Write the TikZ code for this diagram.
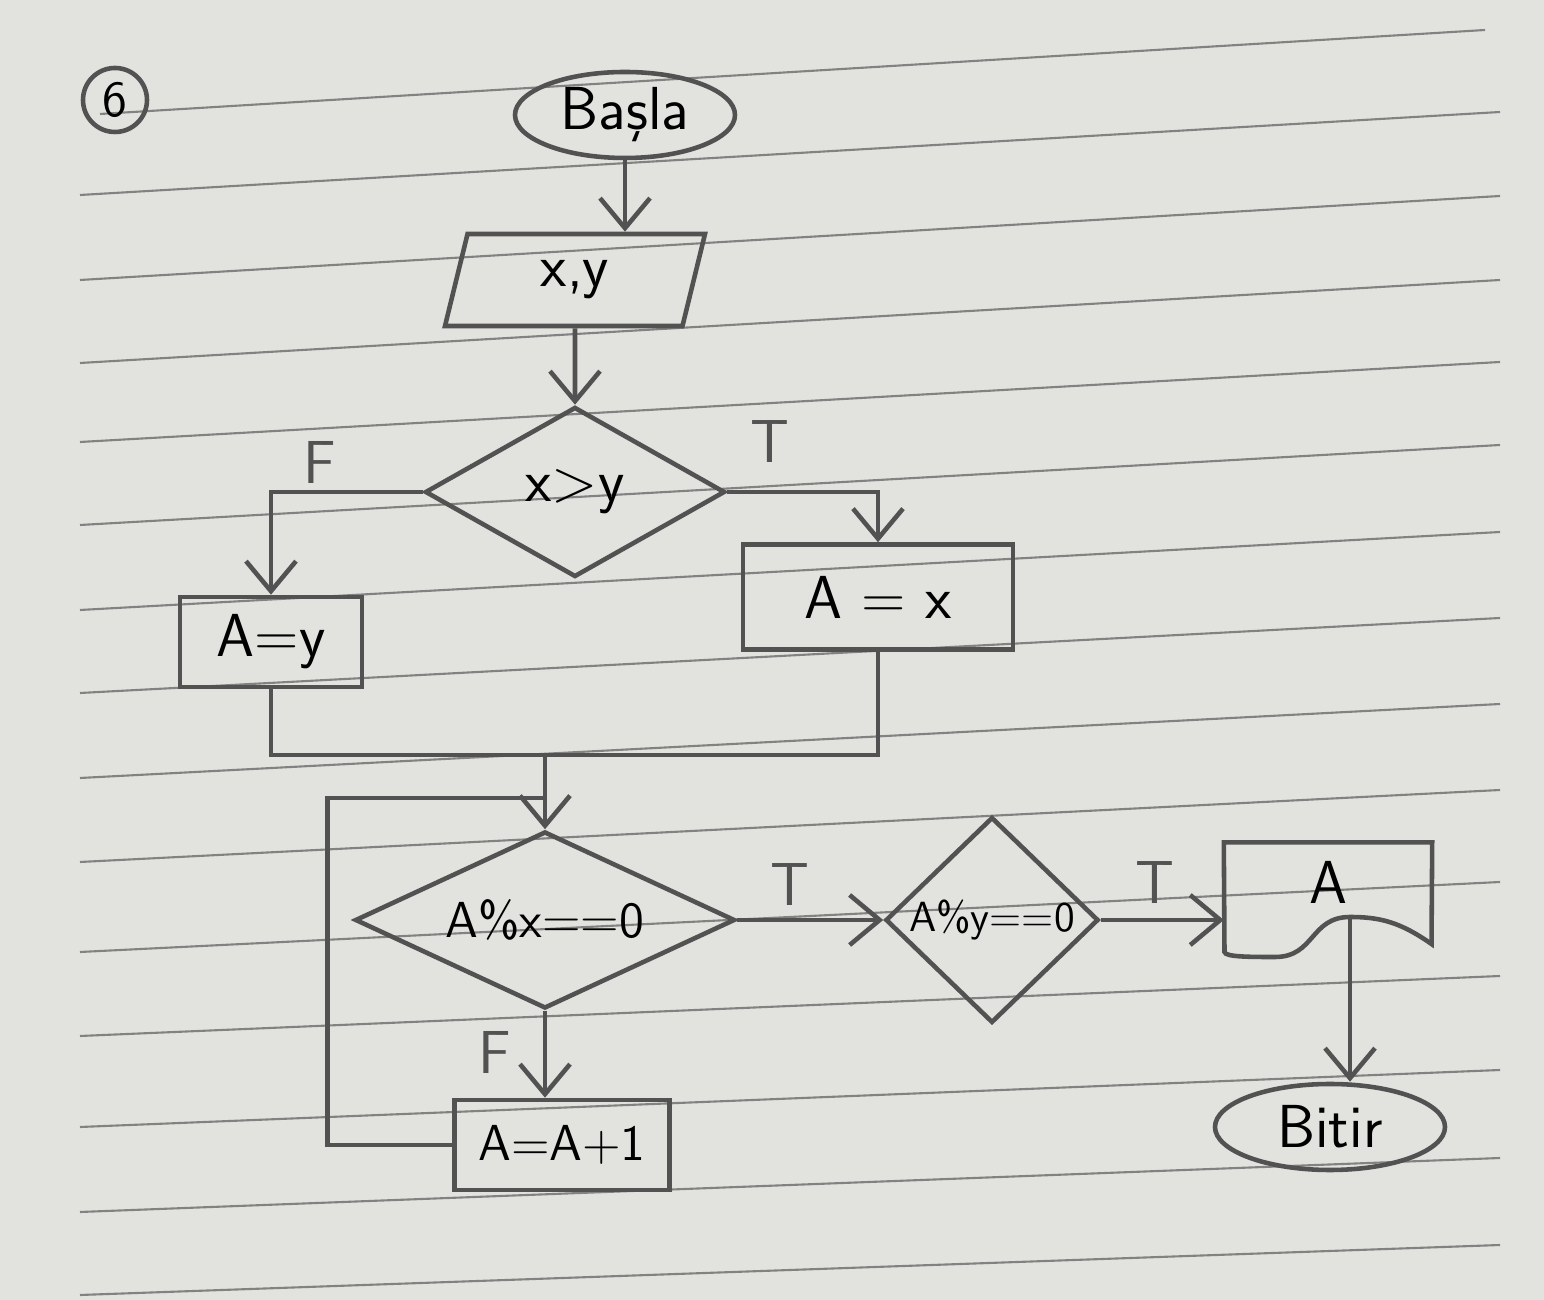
\documentclass[tikz,border=0pt]{standalone}
\usepackage{tikz}
\usetikzlibrary{shapes.geometric,arrows.meta}
\definecolor{kagit}{RGB}{226,226,222}
\definecolor{kursun}{RGB}{82,82,82}
\definecolor{cizgi}{RGB}{130,130,130}
\tikzset{kalem/.style={draw=kursun, line width=1.3pt}}
\tikzset{defter/.style={draw=cizgi, line width=0.6pt}}
\tikzset{uc/.style={kalem, ellipse, inner sep=0pt, minimum width=2.2cm, minimum height=0.86cm, font=\sffamily\LARGE}}
\tikzset{kutu/.style={kalem, rectangle, font=\sffamily\LARGE}}
\tikzset{karar/.style={kalem, diamond, inner sep=0pt}}
\tikzset{girdi/.style={kalem, trapezium, trapezium left angle=70, trapezium right angle=110,
  trapezium stretches body, minimum width=2.6cm, minimum height=0.92cm, font=\sffamily\LARGE}}
\tikzset{ok/.style={kalem, -{Straight Barb[length=3mm,width=5mm]}}}
\tikzset{etiket/.style={font=\sffamily\LARGE, text=kursun}}

\begin{document}
\begin{tikzpicture}[yscale=-1]

\useasboundingbox (0,0) rectangle (15.44,13.00);
\fill[kagit] (0,0) rectangle (15.44,13.00);

\draw[defter] (1.0,1.14) -- (14.85,0.30);
\foreach \yl/\yr in {1.95/1.12, 2.80/1.96, 3.63/2.80, 4.42/3.62, 5.25/4.45, 6.10/5.32, 6.93/6.18,
  7.78/7.04, 8.62/7.90, 9.52/8.82, 10.36/9.76, 11.27/10.70, 12.12/11.58, 12.95/12.45}
  \draw[defter] (0.8,\yl) -- (15.0,\yr);

\node[kalem, circle, minimum size=0.64cm, inner sep=0pt, font=\sffamily\Large] (num) at (1.15,1.00) {6};

\node[uc] (basla) at (6.25,1.15) {Başla};
\node[girdi] (giris) at (5.75,2.80) {x,y};
\node[karar, minimum width=3.0cm, minimum height=1.70cm, font=\sffamily\LARGE] (karar1) at (5.75,4.92) {x>y};
\node[kutu, minimum width=2.70cm, minimum height=1.05cm] (Ax) at (8.78,5.97) {A = x};
\node[kutu, minimum width=1.82cm, minimum height=0.90cm] (Ay) at (2.71,6.42) {A=y};
\node[karar, shape aspect=2.2, minimum width=3.8cm, minimum height=1.77cm, font=\sffamily\Large] (karar2) at (5.45,9.20) {A\%x==0};
\node[karar, minimum width=2.13cm, minimum height=1.93cm, font=\sffamily\large] (karar3) at (9.92,9.20) {A\%y==0};
\node[rectangle, minimum width=2.07cm, minimum height=0.78cm, font=\sffamily\LARGE] (cikti) at (13.28,8.82) {A};
\node[kutu, minimum width=2.15cm, minimum height=0.90cm, font=\sffamily\Large] (inc) at (5.62,11.45) {A=A+1};
\node[uc, minimum width=2.30cm] (bitir) at (13.30,11.27) {Bitir};

\coordinate (birles) at (5.45,7.55);
\coordinate (don) at (5.45,7.98);
\coordinate (tepe) at (13.50,9.17);

\draw[kalem] (cikti.north west) -- (cikti.north east) -- (14.315,9.44)
  .. controls (14.0,9.22) and (13.8,9.17) .. (tepe)
  .. controls (13.1,9.17) and (13.15,9.57) .. (12.75,9.57)
  .. controls (12.5,9.57) and (12.25,9.57) .. (12.245,9.52) -- cycle;

\draw[ok] (basla.south) -- (basla.south |- giris.north);
\draw[ok] (giris.south) -- (karar1.north);
\draw[ok] (karar1.east) -| (Ax.north);
\draw[ok] (karar1.west) -| (Ay.north);
\node[etiket] (t1) at (7.70,4.42) {T};
\node[etiket] (f1) at (3.20,4.62) {F};

\draw[kalem] (Ay.south) |- (birles) -| (Ax.south);
\draw[ok] (birles) -- (karar2.north);

\draw[ok] (karar2.east) -- (karar3.west);
\node[etiket] (t2) at (7.90,8.85) {T};
\draw[ok] (karar3.east) -- (karar3.east -| cikti.west);
\node[etiket] (t3) at (11.55,8.83) {T};

\draw[ok] (karar2.south) -- (karar2.south |- inc.north);
\node[etiket] (f2) at (4.95,10.52) {F};
\draw[kalem] (inc.west) -- ++(-1.25,0) |- (don);

\draw[ok] (tepe) -- (tepe |- bitir.north);

\end{tikzpicture}
\end{document}
